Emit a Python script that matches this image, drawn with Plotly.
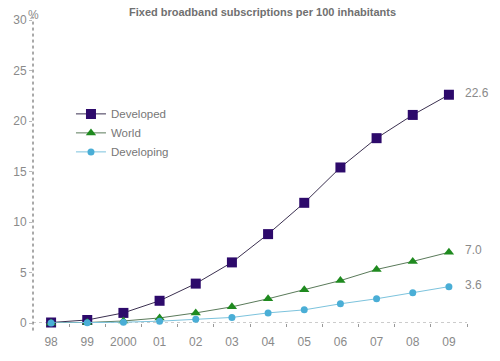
import plotly.graph_objects as go

years = ["98", "99", "2000", "01", "02", "03", "04", "05", "06", "07", "08", "09"]
developed = [0.05, 0.3, 1.0, 2.2, 3.9, 6.0, 8.8, 11.9, 15.4, 18.3, 20.6, 22.6]
world = [0.0, 0.05, 0.2, 0.5, 1.0, 1.6, 2.4, 3.3, 4.2, 5.3, 6.1, 7.0]
developing = [0.0, 0.03, 0.08, 0.18, 0.37, 0.55, 1.0, 1.3, 1.9, 2.4, 3.0, 3.6]
end_labels = ["22.6", "7.0", "3.6"]
y_ticks = [0, 5, 10, 15, 20, 25, 30]

xs = list(range(len(years)))
FONT = "Liberation Sans, Arial, sans-serif"
GRAY = "#8a8a8a"

fig = go.Figure()
series = [
    ("Developed", developed, "#2d0a6b", "#3b3050", "square", 10),
    ("World", world, "#1f8a1f", "#5a7a5a", "triangle-up", 9),
    ("Developing", developing, "#4aaed6", "#7cc3dd", "circle", 7),
]
for name, vals, mc, lc, sym, sz in series:
    fig.add_trace(go.Scatter(
        x=xs, y=vals, name=name, mode="lines+markers",
        line=dict(color=lc, width=1),
        marker=dict(symbol=sym, size=sz, color=mc),
        cliponaxis=False,
    ))

for (name, vals, *_), lab in zip(series, end_labels):
    fig.add_annotation(x=xs[-1], y=vals[-1], text=lab, showarrow=False,
                       xanchor="left", xshift=14, yshift=2,
                       font=dict(family=FONT, size=12, color=GRAY))

fig.add_annotation(xref="paper", yref="paper", x=0, y=1, text="%",
                   showarrow=False, xanchor="center", yanchor="bottom", yshift=-4,
                   font=dict(family=FONT, size=12, color=GRAY))

fig.add_annotation(xref="paper", yref="paper", x=0.528, y=1.026,
                   text="<b>Fixed broadband subscriptions per 100 inhabitants</b>",
                   showarrow=False, xanchor="center", yanchor="middle",
                   font=dict(family=FONT, size=11, color="#707070"))

# dotted axis lines
fig.add_shape(type="line", xref="paper", yref="paper", x0=0, x1=0, y0=-0.025, y1=1.01,
              line=dict(color="#555", width=1, dash="dot"))
fig.add_shape(type="line", xref="paper", yref="y", x0=0, x1=1, y0=0, y1=0,
              line=dict(color="#999", width=1, dash="dot"), layer="below")

fig.update_layout(
    width=500, height=361,
    margin=dict(l=33, r=33, t=20, b=38),
    paper_bgcolor="white", plot_bgcolor="white",
    font=dict(family=FONT, color=GRAY, size=12),
    legend=dict(x=0.0875, y=0.738, xanchor="left", yanchor="top",
                bgcolor="rgba(0,0,0,0)", tracegroupgap=0,
                font=dict(family=FONT, size=11.5, color="#777"),
                itemwidth=30),
    xaxis=dict(range=[-0.5, len(years) - 0.5], tickvals=xs, ticktext=years,
               showgrid=False, zeroline=False, showline=False, ticks="",
               automargin=False,
               tickfont=dict(size=12, color=GRAY), ticklabelstandoff=10,
               minor=dict(tickvals=[i + 0.5 for i in xs[:-1]] + [len(years) - 0.5],
                          ticks="outside", ticklen=3, tickcolor="#999", tickwidth=1)),
    yaxis=dict(range=[0, 30], tickvals=y_ticks, showgrid=False, zeroline=False,
               showline=False, ticks="outside", ticklen=3, tickcolor="#bbb",
               automargin=False,
               tickfont=dict(size=12, color=GRAY)),
)

fig.write_html("out.html", config={"displayModeBar": False},
               post_script="document.body.style.margin='0';")
